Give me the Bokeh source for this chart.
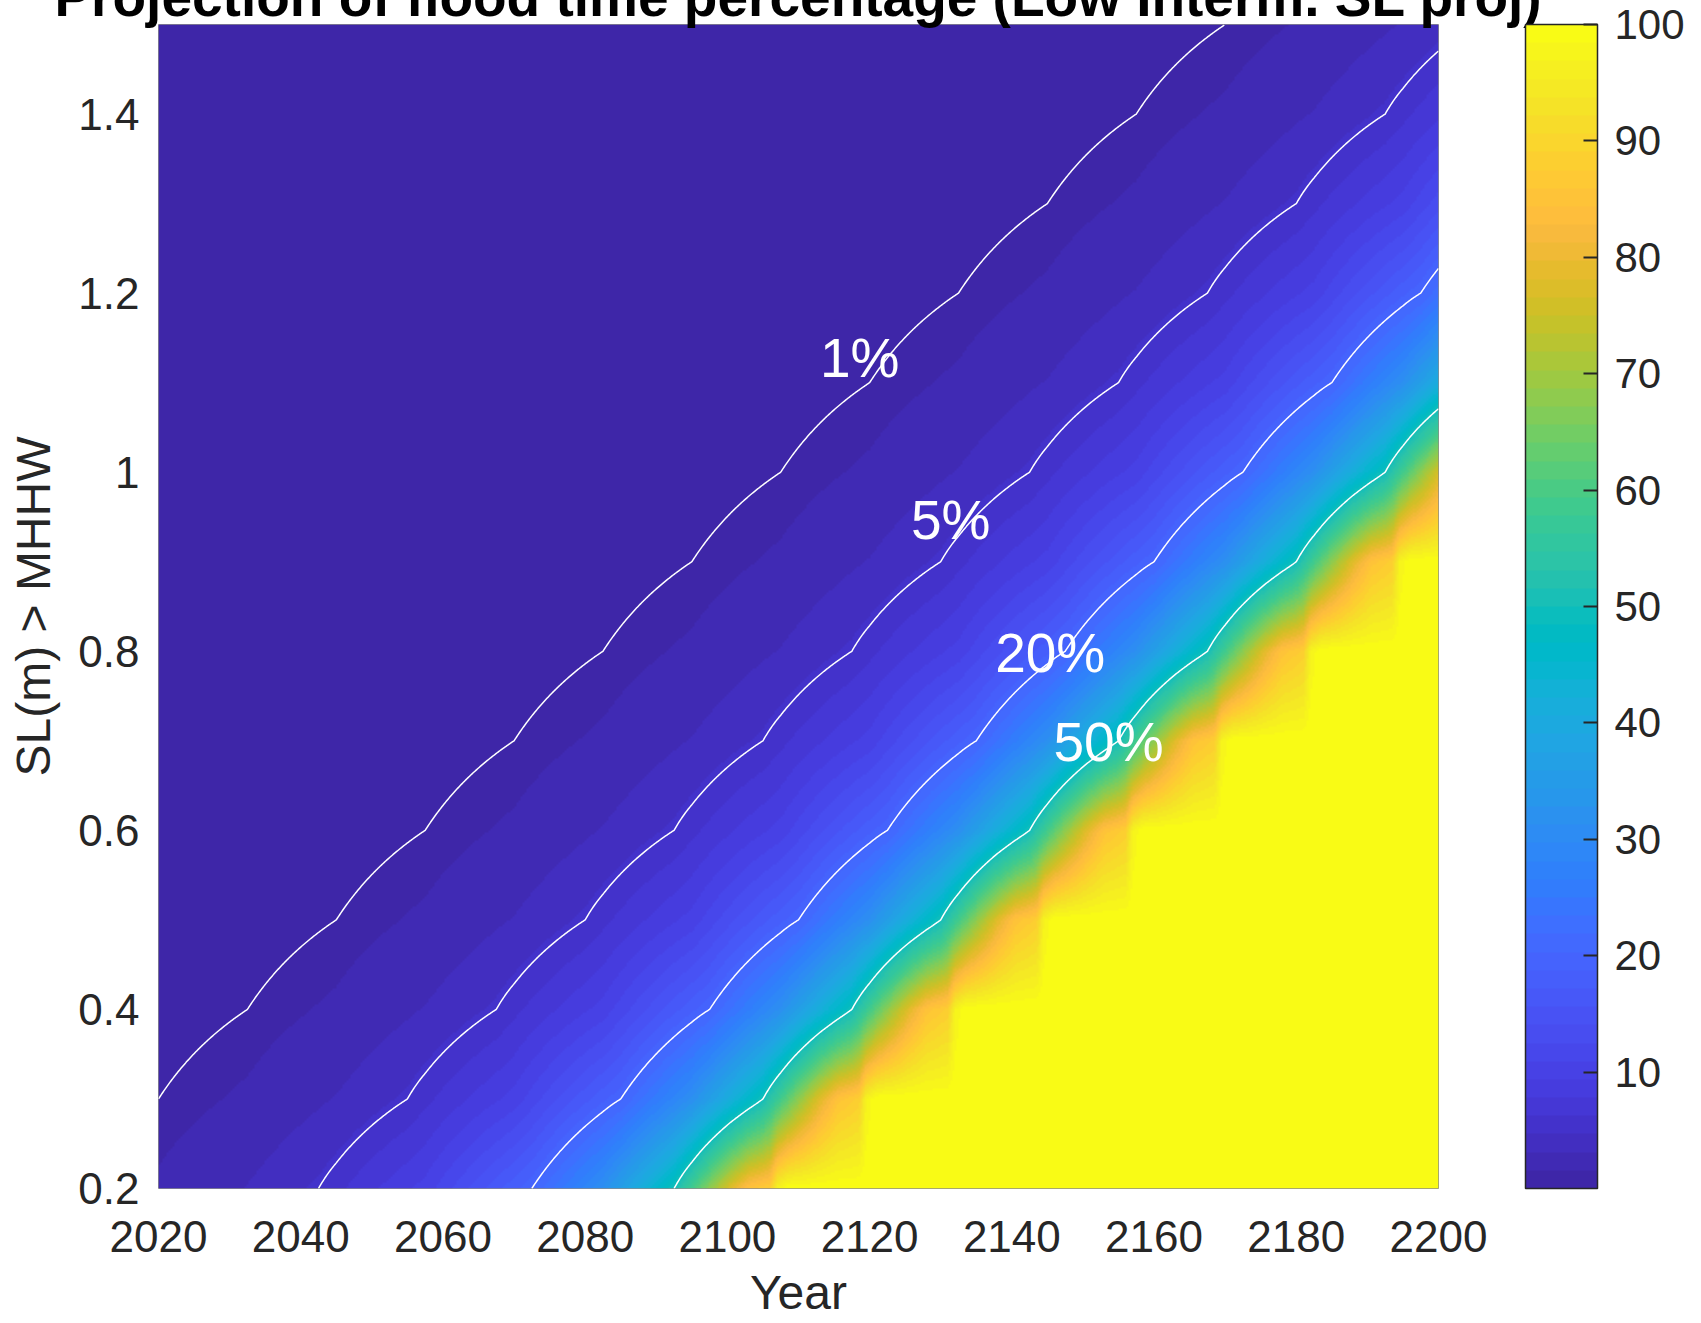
import numpy as np
from bokeh.plotting import figure
from bokeh.models import (LinearColorMapper, ColorBar, FixedTicker, Label,
                          Range1d, PrintfTickFormatter, Title)
from bokeh.embed import file_html
from bokeh.resources import INLINE

# ---------------- data ----------------
# SL thresholds (m above MHHW) at which the flood-time series is given
sl_rows = [0.2, 0.3, 0.4, 0.5, 0.6, 0.7, 0.8, 0.9, 1.0, 1.1, 1.2, 1.3, 1.4, 1.5]
# year in which each threshold is exceeded 1% of the time
yr_1pct = [2007.5, 2020.0, 2032.5, 2045.0, 2057.5, 2070.0, 2082.5,
           2095.0, 2107.5, 2120.0, 2132.5, 2145.0, 2157.5, 2170.0]
# flood-time percentage reached N years after the 1% year
lag_years = [-150.0, -100.0, -50.0, -25.0, -12.5, 0.0, 12.5, 25.0, 35.0, 50.0, 65.0,
             75.0, 85.0, 89.5, 93.0, 95.5, 98.5, 99.5, 101.0]
pct_levels = [0.001, 0.01, 0.1, 0.32, 0.56, 1.0, 1.78, 3.2, 5.0, 10.0, 20.0,
              31.6, 50.0, 66.0, 78.0, 85.0, 88.0, 97.0, 100.0]

contour_levels = [1, 5, 20, 50]
contour_label_text = ["1%", "5%", "20%", "50%"]
contour_label_year = [2118.6, 2131.4, 2145.4, 2153.6]
contour_label_sl = [1.128, 0.947, 0.798, 0.699]

year_ticks = [2020, 2040, 2060, 2080, 2100, 2120, 2140, 2160, 2180, 2200]
sl_ticks = [0.2, 0.4, 0.6, 0.8, 1.0, 1.2, 1.4]
cbar_ticks = [10, 20, 30, 40, 50, 60, 70, 80, 90, 100]

title_text = "Projection of flood time percentage (Low Interm. SL proj)"
x_label = "Year"
y_label = "SL(m) > MHHW"

# ---------------- parula colormap (64) ----------------
parula_rgb = [
    (0.2422, 0.1504, 0.6603), (0.2504, 0.1650, 0.7076), (0.2578, 0.1818, 0.7511), (0.2647, 0.1978, 0.7952),
    (0.2706, 0.2147, 0.8364), (0.2751, 0.2342, 0.8710), (0.2783, 0.2559, 0.8991), (0.2803, 0.2782, 0.9221),
    (0.2813, 0.3006, 0.9414), (0.2810, 0.3228, 0.9579), (0.2795, 0.3447, 0.9717), (0.2760, 0.3667, 0.9829),
    (0.2699, 0.3892, 0.9906), (0.2602, 0.4123, 0.9952), (0.2440, 0.4358, 0.9988), (0.2206, 0.4603, 0.9973),
    (0.1963, 0.4847, 0.9892), (0.1834, 0.5074, 0.9798), (0.1786, 0.5289, 0.9682), (0.1764, 0.5499, 0.9520),
    (0.1687, 0.5703, 0.9359), (0.1540, 0.5902, 0.9218), (0.1460, 0.6091, 0.9079), (0.1380, 0.6276, 0.8973),
    (0.1248, 0.6459, 0.8883), (0.1113, 0.6635, 0.8763), (0.0952, 0.6798, 0.8598), (0.0689, 0.6948, 0.8394),
    (0.0297, 0.7082, 0.8163), (0.0036, 0.7203, 0.7917), (0.0067, 0.7312, 0.7660), (0.0433, 0.7411, 0.7394),
    (0.0964, 0.7500, 0.7120), (0.1408, 0.7584, 0.6842), (0.1717, 0.7670, 0.6554), (0.1938, 0.7758, 0.6251),
    (0.2161, 0.7843, 0.5923), (0.2470, 0.7918, 0.5567), (0.2906, 0.7973, 0.5188), (0.3406, 0.8008, 0.4789),
    (0.3909, 0.8029, 0.4354), (0.4456, 0.8024, 0.3909), (0.5044, 0.7993, 0.3480), (0.5616, 0.7942, 0.3045),
    (0.6174, 0.7876, 0.2612), (0.6720, 0.7793, 0.2227), (0.7242, 0.7698, 0.1910), (0.7738, 0.7598, 0.1646),
    (0.8203, 0.7498, 0.1535), (0.8634, 0.7406, 0.1596), (0.9035, 0.7330, 0.1774), (0.9393, 0.7288, 0.2100),
    (0.9728, 0.7298, 0.2394), (0.9956, 0.7434, 0.2371), (0.9970, 0.7659, 0.2199), (0.9952, 0.7893, 0.2028),
    (0.9892, 0.8136, 0.1885), (0.9786, 0.8386, 0.1766), (0.9676, 0.8639, 0.1643), (0.9610, 0.8890, 0.1537),
    (0.9597, 0.9135, 0.1423), (0.9628, 0.9373, 0.1265), (0.9691, 0.9606, 0.1064), (0.9769, 0.9839, 0.0805),
]
parula = ["#%02x%02x%02x" % tuple(int(round(c * 255)) for c in rgb) for rgb in parula_rgb]

# ---------------- field ----------------
X0, X1 = 2020.0, 2200.0
Y0, Y1 = 0.2, 1.5
rows = np.array(sl_rows)


def row_values(t):
    # sqrt of the percentage for each SL row, as a function of year
    return np.sqrt(np.array([np.interp(t - y1, lag_years, pct_levels) for y1 in yr_1pct]))


nx, ny = 640, 582
t = X0 + (np.arange(nx) + 0.5) * (X1 - X0) / nx
s = Y0 + (np.arange(ny) + 0.5) * (Y1 - Y0) / ny
rp = row_values(t)                       # (nrows, nx)
k = np.clip(np.searchsorted(rows, s, side="right") - 1, 0, len(rows) - 2)
f = (s - rows[k]) / (rows[k + 1] - rows[k])
Z = ((1 - f)[:, None] * rp[k] + f[:, None] * rp[k + 1]) ** 2
Z = Z.astype(np.float32)

mapper = LinearColorMapper(palette=parula, low=0, high=100)

FONT = "Liberation Sans"
TXT = "#262626"

W, H = 1700, 1322
FL, FR, FT, FB = 158, 1438, 24, 1188   # frame edges in canvas pixels

p = figure(width=W, height=H, x_range=Range1d(X0, X1), y_range=Range1d(Y0, Y1),
           output_backend="svg", toolbar_location=None,
           min_border_left=FL, min_border_right=W - FR, min_border_top=FT,
           min_border_bottom=H - FB)
p.background_fill_color = "white"
p.border_fill_color = "white"
p.grid.visible = False
p.outline_line_color = "#8c8c8c"
p.outline_line_width = 1

p.image(image=[Z], x=X0, y=Y0, dw=X1 - X0, dh=Y1 - Y0, color_mapper=mapper)

# contour lines
tf = np.linspace(X0, X1, 1441)
rpf = row_values(tf)
for L in contour_levels:
    g = np.sqrt(L)
    sl = np.full(tf.shape, np.nan)
    for j in range(tf.size):
        col = rpf[:, j]
        if col[0] >= g and col[-1] < g:
            sl[j] = np.interp(g, col[::-1], rows[::-1])
    p.line(tf, sl, line_color="white", line_width=1.5)

for txt, xx, yy in zip(contour_label_text, contour_label_year, contour_label_sl):
    p.add_layout(Label(x=xx, y=yy, text=txt, text_align="center", text_baseline="middle",
                       text_font=FONT, text_font_size="55px", text_color="white"))

# axes
for ax in (p.xaxis, p.yaxis):
    ax.axis_line_color = None
    ax.major_tick_line_color = None
    ax.minor_tick_line_color = None
    ax.major_tick_out = 0
    ax.major_tick_in = 0
    ax.major_label_text_font = FONT
    ax.major_label_text_font_size = "44px"
    ax.major_label_text_color = TXT
    ax.axis_label_text_font = FONT
    ax.axis_label_text_font_size = "48px"
    ax.axis_label_text_font_style = "normal"
    ax.axis_label_text_color = TXT
p.xaxis.ticker = FixedTicker(ticks=year_ticks)
p.yaxis.ticker = FixedTicker(ticks=sl_ticks)
p.yaxis.formatter = PrintfTickFormatter(format="%g")
p.xaxis.major_label_standoff = 32
p.yaxis.major_label_standoff = 19
p.xaxis.axis_label = x_label
p.yaxis.axis_label = y_label
p.xaxis.axis_label_standoff = 11
p.yaxis.axis_label_standoff = 15

p.add_layout(Title(text=title_text, align="center", vertical_align="top", standoff=-118,
                   text_font=FONT, text_font_size="55px", text_font_style="bold",
                   text_color="black"), "above")

cb = ColorBar(color_mapper=mapper, location=(1367, 0), width=72, height=FB - FT,
              padding=0, margin=0, ticker=FixedTicker(ticks=cbar_ticks),
              major_label_text_font=FONT, major_label_text_font_size="42px",
              major_label_text_color=TXT, label_standoff=17,
              major_tick_in=14, major_tick_out=0, major_tick_line_color=TXT,
              major_tick_line_width=2, minor_tick_line_color=None,
              bar_line_color=TXT, bar_line_width=1.5, border_line_color=None,
              background_fill_color=None)
p.add_layout(cb)

open("out.html", "w").write(file_html(p, INLINE))
